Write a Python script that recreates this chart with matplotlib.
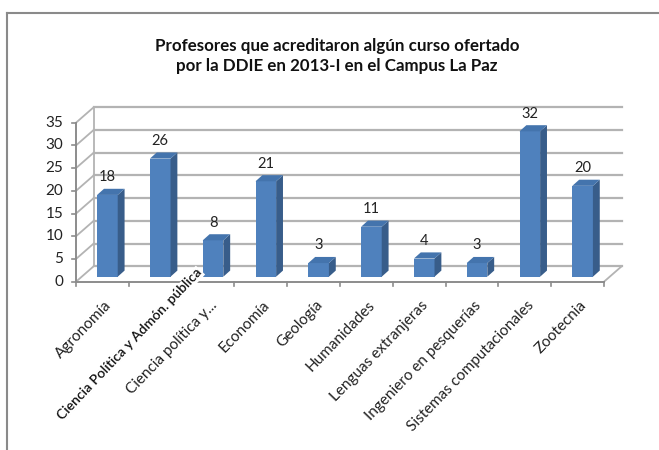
import matplotlib
matplotlib.use("Agg")
import matplotlib.pyplot as plt
from matplotlib.patches import Polygon, Rectangle
from matplotlib.lines import Line2D

plt.rcParams['font.family'] = ['Lato', 'DejaVu Sans']

# ---- data ----
categories = ["Agronomía", "Ciencia Política y Admón. pública", "Ciencia política y...",
              "Economía", "Geología", "Humanidades", "Lenguas extranjeras",
              "Ingeniero en pesquerías", "Sistemas computacionales", "Zootecnia"]
values = [18, 26, 8, 21, 3, 11, 4, 3, 32, 20]
yticks = [0, 5, 10, 15, 20, 25, 30, 35]
title = "Profesores que acreditaron algún curso ofertado\npor la DDIE en 2013-I en el Campus La Paz"

# ---- layout (pixel mapping) ----
W, H = 659, 450
X_ORIGIN_PX, PX_PER_CAT = 76, 52.8
Y_ORIGIN_PX, PX_PER_UNIT = 281.7, 4.543

fig = plt.figure(figsize=(W / 100, H / 100), dpi=100)
ax = fig.add_axes([0, 0, 1, 1])
ax.set_xlim(-X_ORIGIN_PX / PX_PER_CAT, (W - X_ORIGIN_PX) / PX_PER_CAT)
ax.set_ylim(-(H - Y_ORIGIN_PX) / PX_PER_UNIT, Y_ORIGIN_PX / PX_PER_UNIT)
ax.axis('off')

n = len(categories)
ymax = yticks[-1]
DX, DY = 0.335, 3.4          # wall depth
grid_c = '#b3b3b3'
axis_c = '#8c8c8c'

# back wall gridlines + side wall diagonals
for v in yticks:
    ax.plot([DX, n + DX], [v + DY, v + DY], color=grid_c, lw=1.6, zorder=1)
    ax.plot([0, DX], [v, v + DY], color=grid_c, lw=1.3, zorder=1)
ax.plot([DX, DX], [DY, ymax + DY], color=grid_c, lw=1.3, zorder=1)
ax.plot([n, n + DX], [0, DY], color=grid_c, lw=1.3, zorder=1)

# front axes
ax.plot([0, 0], [0, ymax], color=axis_c, lw=1.4, zorder=2)
ax.plot([0, n], [0, 0], color=axis_c, lw=1.4, zorder=2)
for v in yticks:
    ax.plot([-0.075, 0], [v, v], color=axis_c, lw=1.2, zorder=2)
    ax.text(-0.24, v, str(v), ha='right', va='center', fontsize=11, color='#222222')
for i in range(n + 1):
    ax.plot([i, i], [0, -0.9], color=axis_c, lw=1.2, zorder=2)

# bars
front_c, side_c, top_c = '#4f81bd', '#385d8a', '#4474ad'
BX, BY, BW = 0.40, 1.1, 0.39
bdx, bdy = 0.13, 1.35
for i, v in enumerate(values):
    x0 = i + BX
    y0 = BY
    ax.add_patch(Rectangle((x0, y0), BW, v, facecolor=front_c, edgecolor='none', zorder=3))
    ax.add_patch(Polygon([(x0 + BW, y0), (x0 + BW + bdx, y0 + bdy),
                          (x0 + BW + bdx, y0 + v + bdy), (x0 + BW, y0 + v)],
                         closed=True, facecolor=side_c, edgecolor='none', zorder=3))
    ax.add_patch(Polygon([(x0, y0 + v), (x0 + bdx, y0 + v + bdy),
                          (x0 + BW + bdx, y0 + v + bdy), (x0 + BW, y0 + v)],
                         closed=True, facecolor=top_c, edgecolor='none', zorder=3))
    ax.text(x0 + BW / 2, v + 5.0, str(v), ha='center', va='center',
            fontsize=10.5, color='#222222', zorder=4)

# category labels
for i, cat in enumerate(categories):
    if i == 1:
        ax.text(2.27, 3.4, cat, rotation=46.5, ha='right', va='top',
                rotation_mode='anchor', fontsize=10, fontweight='semibold',
                color='#111111', zorder=5,
                bbox=dict(facecolor='white', edgecolor='none', pad=0.3))
    else:
        ax.text(i + 0.53, -3.6, cat, rotation=46, ha='right', va='top',
                rotation_mode='anchor', fontsize=11, color='#222222')

# title
fig.text(337 / W, 1 - 56 / H, title, ha='center', va='center', fontsize=12.2,
         fontweight='bold', color='#111111', linespacing=1.35)

# outer frame (left and top)
fig.add_artist(Line2D([7 / W, 7 / W], [0, 1 - 13 / H], transform=fig.transFigure,
                      color='#8a8a8a', lw=1.5))
fig.add_artist(Line2D([7 / W, 1], [1 - 13 / H, 1 - 13 / H], transform=fig.transFigure,
                      color='#8a8a8a', lw=1.5))

fig.savefig('out.png', dpi=100)
